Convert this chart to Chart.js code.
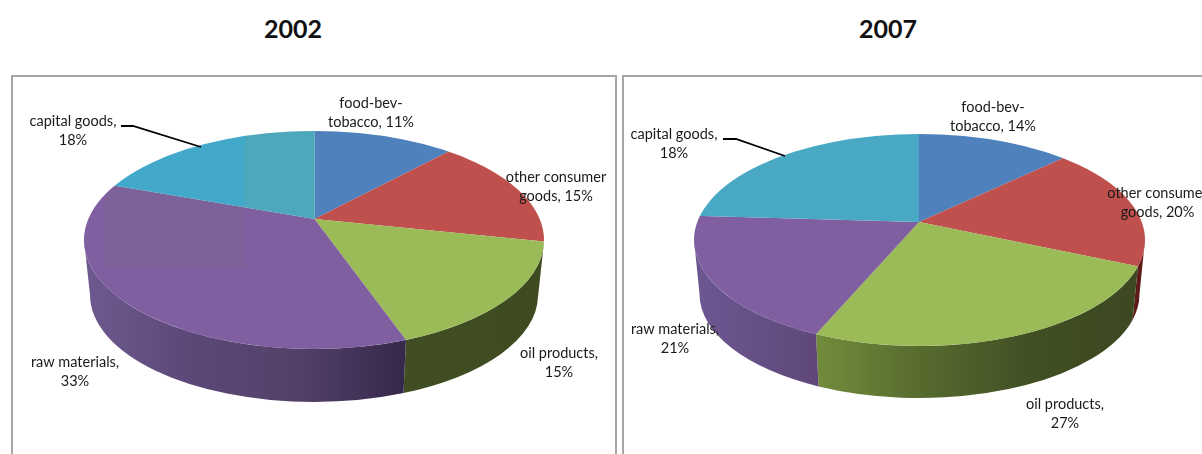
<!DOCTYPE html>
<html>
<head>
<meta charset="utf-8">
<title>2002 / 2007</title>
<script src="https://cdn.jsdelivr.net/npm/chart.js@4"></script>
<style>
html, body { margin: 0; padding: 0; background: #fff; width: 1202px; height: 454px; overflow: hidden; }
canvas { position: absolute; left: 0; top: 0; }
.frame { position: absolute; top: 75px; height: 400px; border: 2px solid #a6a6a6; box-sizing: border-box; }
.year { position: absolute; top: 13px; width: 120px; text-align: center; font: bold 25px Lato, sans-serif; color: #111; }
</style>
</head>
<body>
<div class="frame" style="left:11px;width:606px"></div>
<div class="frame" style="left:622px;width:640px"></div>
<div class="year" style="left:233px">2002</div>
<div class="year" style="left:828px">2007</div>
<canvas id="pie2002" width="1202" height="454"></canvas>
<canvas id="pie2007" width="1202" height="454"></canvas>
<script>
// category names, split where the labels wrap
const categories = ['food-bev-tobacco', 'other consumer goods', 'oil products', 'raw materials', 'capital goods'];
const labelFirst = ['food-bev-', 'other consumer', 'oil products,', 'raw materials,', 'capital goods,'];
const labelSecond = ['tobacco, ', 'goods, ', '', '', ''];

// slice sizes as drawn
const values2002 = [11, 15, 15, 33, 18];
const values2007 = [14, 20, 27, 21, 26];

// percentages as printed on the labels (capital goods 2007 prints 18 but is drawn bigger)
const printed2002 = [11, 15, 15, 33, 18];
const printed2007 = [14, 20, 27, 21, 18];

const topColors2002 = ['#4f81bd', '#c0504d', '#9bbb59', '#7f5f9f', '#43a9cb'];
const topColors2007 = ['#4f81bd', '#c0504d', '#9bbb59', '#7f5f9f', '#49a8c3'];

const SQUASH = 0.47;

const layout2002 = {
    apex: [314.5, 219],
    rim: { x: 314, y: 240, rx: 230, ry: 109 },
    base: { x: 314, y: 295, rx: 224, ry: 107 },
    walls: [
        ['#2f4b73', '#2f4b73'],
        ['#6b1f1d', '#6b1f1d'],
        ['#414d22', '#3e4a20'],
        ['#6f5a90', '#5c4877', '#534069', '#35284a'],
        ['#2a6a80', '#2a6a80']
    ],
    labelPos: [[371, 103], [556, 177], [559, 353], [75, 362], [73, 121]],
    leader: [[121, 126], [133, 126], [201, 147]],
    // faint rectangles left in the source image, each kept inside one slice
    patches: [
        { slice: 4, x: 245, y: 125, w: 70, h: 95, color: 'rgba(130,165,110,0.16)' },
        { slice: 3, x: 105, y: 180, w: 140, h: 88, color: 'rgba(110,120,120,0.14)' }
    ]
};

const layout2007 = {
    apex: [919, 222],
    rim: { x: 919.5, y: 240, rx: 225.5, ry: 106 },
    base: { x: 919.5, y: 294, rx: 220, ry: 104 },
    walls: [
        ['#2f4b73', '#2f4b73'],
        ['#5c1a18', '#6b1f1d'],
        ['#728c3c', '#566a2e', '#414f24', '#3c4820'],
        ['#6c5792', '#5f4879'],
        ['#2a6a80', '#2a6a80']
    ],
    labelPos: [[993, 107], [1157.5, 193], [1065, 404], [675, 329], [674, 134]],
    leader: [[723, 139], [736, 139], [785, 156]],
    patches: []
};

// where a slice edge (chart angle) meets the rim, as an ellipse parameter
function rimParam(geo, angle) {
    const { rim, apex } = geo;
    const ox = (apex[0] - rim.x) / rim.rx, oy = (apex[1] - rim.y) / rim.ry;
    const ux = Math.cos(angle) / rim.rx, uy = SQUASH * Math.sin(angle) / rim.ry;
    const a = ux * ux + uy * uy, b = 2 * (ox * ux + oy * uy), c = ox * ox + oy * oy - 1;
    const k = (-b + Math.sqrt(b * b - 4 * a * c)) / (2 * a);
    const t = Math.atan2(oy + k * uy, ox + k * ux);
    return t < 0 ? t + 2 * Math.PI : t;
}

function drawWalls(ctx, arcs, geo) {
    const { rim, base } = geo;
    arcs.forEach((arc, i) => {
        const t1 = rimParam(geo, arc.startAngle);
        let t2 = rimParam(geo, arc.endAngle);
        if (t2 <= t1) t2 += 2 * Math.PI;
        [0, 2 * Math.PI].forEach((shift) => {
            const lo = Math.max(t1, shift), hi = Math.min(t2, shift + Math.PI);
            if (hi <= lo) return;
            const xa = rim.x + rim.rx * Math.cos(hi), xb = rim.x + rim.rx * Math.cos(lo);
            const grad = ctx.createLinearGradient(xa, 0, xb, 0);
            const stops = geo.walls[i];
            stops.forEach((c, j) => grad.addColorStop(j / (stops.length - 1), c));
            ctx.beginPath();
            ctx.ellipse(rim.x, rim.y, rim.rx, rim.ry, 0, lo, hi, false);
            ctx.ellipse(base.x, base.y, base.rx, base.ry, 0, hi, lo, true);
            ctx.closePath();
            ctx.fillStyle = grad;
            ctx.fill();
        });
    });
}

function drawPatches(ctx, arcs, geo) {
    const [ax, ay] = geo.apex;
    geo.patches.forEach((p) => {
        const arc = arcs[p.slice];
        const mid = (arc.startAngle + arc.endAngle) / 2;
        ctx.save();
        ctx.beginPath();
        ctx.ellipse(geo.rim.x, geo.rim.y, geo.rim.rx, geo.rim.ry, 0, 0, 2 * Math.PI);
        ctx.clip();
        ctx.beginPath();
        ctx.moveTo(ax, ay);
        [arc.startAngle, mid, arc.endAngle].forEach((a) => {
            ctx.lineTo(ax + 900 * Math.cos(a), ay + 900 * SQUASH * Math.sin(a));
        });
        ctx.closePath();
        ctx.clip();
        ctx.fillStyle = p.color;
        ctx.fillRect(p.x, p.y, p.w, p.h);
        ctx.restore();
    });
}

function makePie(id, values, printed, colors, geo) {
    const tilt = {
        id: 'tilt',
        beforeDatasetsDraw(chart) {
            const ctx = chart.ctx;
            const arcs = chart.getDatasetMeta(0).data;
            drawWalls(ctx, arcs, geo);
            ctx.save();
            ctx.beginPath();
            ctx.ellipse(geo.rim.x, geo.rim.y, geo.rim.rx, geo.rim.ry, 0, 0, 2 * Math.PI);
            ctx.clip();
            ctx.translate(geo.apex[0], geo.apex[1]);
            ctx.scale(1, SQUASH);
            ctx.translate(-arcs[0].x, -arcs[0].y);
        },
        afterDatasetsDraw(chart) {
            chart.ctx.restore();
            drawPatches(chart.ctx, chart.getDatasetMeta(0).data, geo);
        },
        afterDraw(chart) {
            const ctx = chart.ctx;
            ctx.save();
            ctx.strokeStyle = '#000';
            ctx.lineWidth = 1.8;
            ctx.beginPath();
            geo.leader.forEach((p, i) => (i ? ctx.lineTo(p[0], p[1]) : ctx.moveTo(p[0], p[1])));
            ctx.stroke();
            ctx.font = '14.5px Lato, sans-serif';
            ctx.fillStyle = '#1a1a1a';
            ctx.textAlign = 'center';
            ctx.textBaseline = 'middle';
            printed.forEach((pct, i) => {
                const [x, y] = geo.labelPos[i];
                ctx.fillText(labelFirst[i], x, y);
                ctx.fillText(labelSecond[i] + pct + '%', x, y + 19);
            });
            ctx.restore();
        }
    };

    return new Chart(document.getElementById(id), {
        type: 'pie',
        data: {
            labels: categories,
            datasets: [{
                data: values,
                backgroundColor: colors,
                borderWidth: 0,
                clip: false
            }]
        },
        options: {
            responsive: false,
            animation: false,
            radius: 700,
            events: [],
            plugins: {
                legend: { display: false },
                tooltip: { enabled: false }
            }
        },
        plugins: [tilt]
    });
}

makePie('pie2002', values2002, printed2002, topColors2002, layout2002);
makePie('pie2007', values2007, printed2007, topColors2007, layout2007);
</script>
</body>
</html>
